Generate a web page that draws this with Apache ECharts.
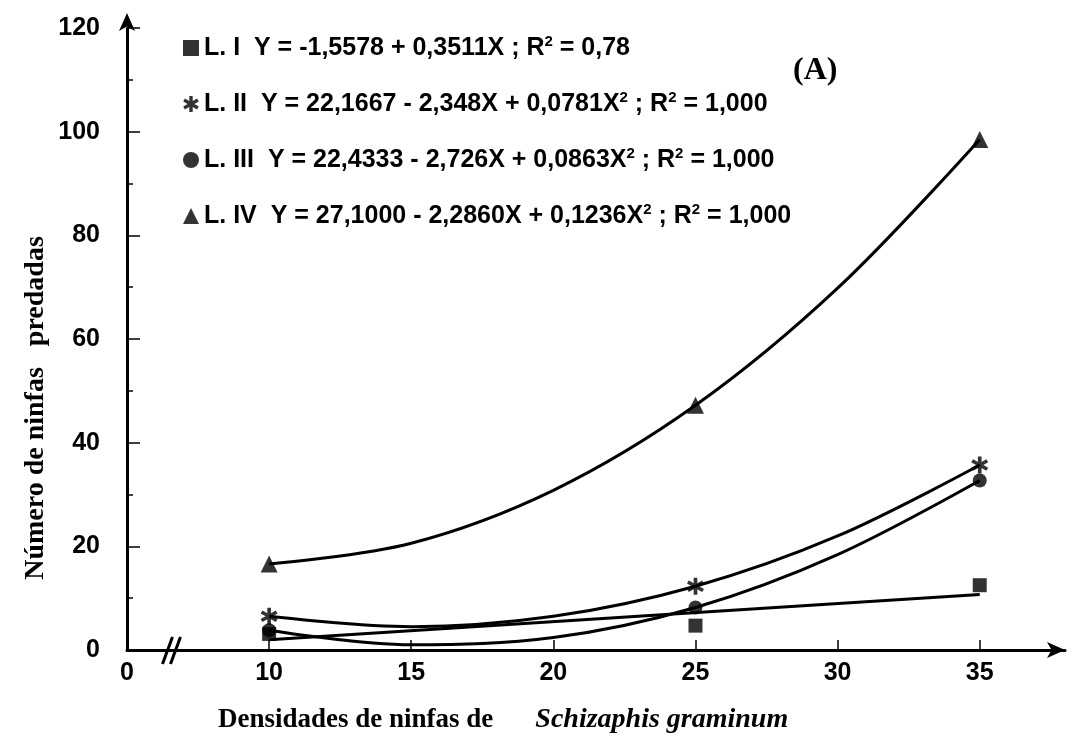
<!DOCTYPE html>
<html>
<head>
<meta charset="utf-8">
<script src="https://cdn.jsdelivr.net/npm/echarts@6/dist/echarts.min.js"></script>
<style>
html, body { margin: 0; padding: 0; background: #fff; }
#main { width: 1091px; height: 740px; }
</style>
</head>
<body>
<div id="main"></div>
<script>
// observed points (densities 10, 25, 35)
var densities = [10, 25, 35];
var larvaI = [3.1, 4.7, 12.5];
var larvaII = [6.5, 12.3, 35.7];
var larvaIII = [3.8, 8.2, 32.7];
var larvaIV = [16.6, 47.2, 98.5];

// fitted curves
var lineIX = [10, 35];
var lineI = [2.0, 10.7];
var curveX = [10, 15, 20, 25, 30, 35];
var curveII = [6.5, 4.5, 6.5, 12.3, 22.0, 35.7];
var curveIII = [3.8, 1.0, 2.4, 8.2, 18.4, 32.7];
var curveIV = [16.6, 20.6, 30.8, 47.2, 69.8, 98.5];

var xTickValues = [10, 15, 20, 25, 30, 35];
var xLabelValues = [5, 10, 15, 20, 25, 30, 35];
var legendNames = ['L. I', 'L. II', 'L. III', 'L. IV'];
var equations = [
	'L. I  Y = -1,5578 + 0,3511X ; R{sup|2} = 0,78',
	'L. II  Y = 22,1667 - 2,348X + 0,0781X{sup|2} ; R{sup|2} = 1,000',
	'L. III  Y = 22,4333 - 2,726X + 0,0863X{sup|2} ; R{sup|2} = 1,000',
	'L. IV  Y = 27,1000 - 2,2860X + 0,1236X{sup|2} ; R{sup|2} = 1,000'
];

var starPath = 'path://M-1.7,-8L1.7,-8L1.7,8L-1.7,8Z M6.08,-5.47L7.78,-2.53L-6.08,5.47L-7.78,2.53Z M7.78,2.53L6.08,5.47L-7.78,-2.53L-6.08,-5.47Z';
var markers = ['rect', starPath, 'circle', 'triangle'];
var markerSizes = [14, 17, 14, 17];

function pairs(xs, ys) {
	return xs.map(function (x, i) { return [x, ys[i]]; });
}

var sans = "'Liberation Sans', Arial, sans-serif";
var serif = "'Liberation Serif', 'Times New Roman', serif";

function fitLine(xs, ys) {
	return {
		type: 'line',
		data: pairs(xs, ys),
		smooth: 0.35,
		showSymbol: false,
		silent: true,
		lineStyle: { color: '#000', width: 3 },
		z: 2
	};
}

function points(name, ys, idx) {
	return {
		type: 'scatter',
		name: name,
		data: pairs(densities, ys),
		symbol: markers[idx],
		symbolSize: markerSizes[idx],
		itemStyle: { color: '#000' },
		z: 5
	};
}

var tickFont = {
	fontFamily: sans,
	fontWeight: 'bold',
	fontSize: 25,
	color: '#000'
};

var myChart = echarts.init(document.getElementById('main'));

var option = {
	backgroundColor: '#fff',
	animation: false,
	grid: { left: 127, right: 26, top: 28, bottom: 90 },
	legend: {
		orient: 'vertical',
		left: 178,
		top: 29,
		itemGap: 28,
		itemWidth: 16,
		itemHeight: 16,
		data: legendNames.map(function (n, i) { return { name: n, icon: markers[i] }; }),
		formatter: function (name) { return equations[legendNames.indexOf(name)]; },
		textStyle: {
			fontFamily: sans,
			fontWeight: 'bold',
			fontSize: 25,
			color: '#000',
			lineHeight: 28,
			rich: {
				sup: { fontFamily: sans, fontWeight: 'bold', fontSize: 15, color: '#000', verticalAlign: 'top', lineHeight: 28 }
			}
		},
		selectedMode: false
	},
	xAxis: {
		type: 'value',
		min: 5,
		max: 38,
		splitLine: { show: false },
		axisLine: {
			onZero: false,
			lineStyle: { color: '#000', width: 3 },
			symbol: ['none', 'arrow'],
			symbolSize: [12, 18]
		},
		axisTick: {
			inside: true,
			length: 10,
			customValues: xTickValues,
			lineStyle: { color: '#000', width: 1.5 }
		},
		axisLabel: Object.assign({
			customValues: xLabelValues,
			formatter: function (v) { return v === 5 ? '0' : String(v); },
			margin: 11
		}, tickFont)
	},
	yAxis: {
		type: 'value',
		min: 0,
		max: 120,
		interval: 20,
		splitLine: { show: false },
		axisLine: {
			lineStyle: { color: '#000', width: 3 },
			symbol: ['none', 'arrow'],
			symbolSize: [12, 18],
			symbolOffset: [0, 15]
		},
		axisTick: { inside: true, length: 13, lineStyle: { color: '#000', width: 1.5 } },
		minorTick: { show: true, splitNumber: 2, length: 6, lineStyle: { color: '#000', width: 1.5 } },
		axisLabel: Object.assign({ margin: 27 }, tickFont)
	},
	series: [
		fitLine(lineIX, lineI),
		fitLine(curveX, curveII),
		fitLine(curveX, curveIII),
		fitLine(curveX, curveIV),
		points('L. I', larvaI, 0),
		points('L. II', larvaII, 1),
		points('L. III', larvaIII, 2),
		points('L. IV', larvaIV, 3)
	]
};
myChart.setOption(option);

// axis break mark and texts
var brk = myChart.convertToPixel({ xAxisIndex: 0, yAxisIndex: 0 }, [6.6, 0]);
myChart.setOption({
	graphic: [
		{
			type: 'group',
			x: brk[0],
			y: brk[1],
			children: [
				{ type: 'line', shape: { x1: -10, y1: 14, x2: 0, y2: -13 }, style: { stroke: '#000', lineWidth: 3 } },
				{ type: 'line', shape: { x1: -2, y1: 14, x2: 8, y2: -13 }, style: { stroke: '#000', lineWidth: 3 } }
			]
		},
		{
			type: 'text',
			left: 793,
			top: 55,
			style: { text: '(A)', font: 'bold 32px ' + serif, fill: '#000' }
		},
		{
			type: 'text',
			x: 36,
			y: 408,
			rotation: Math.PI / 2,
			style: {
				text: 'Número de ninfas   predadas',
				font: 'bold 28px ' + serif,
				fill: '#000',
				align: 'center',
				verticalAlign: 'middle'
			}
		},
		{
			type: 'text',
			left: 218,
			top: 706,
			style: {
				text: '{a|Densidades de ninfas de}{b|Schizaphis graminum}',
				rich: {
					a: { fontFamily: serif, fontWeight: 'bold', fontSize: 27, fill: '#000' },
					b: { fontFamily: serif, fontWeight: 'bold', fontStyle: 'italic', fontSize: 28, fill: '#000', padding: [0, 0, 0, 42] }
				}
			}
		}
	]
});
</script>
</body>
</html>
